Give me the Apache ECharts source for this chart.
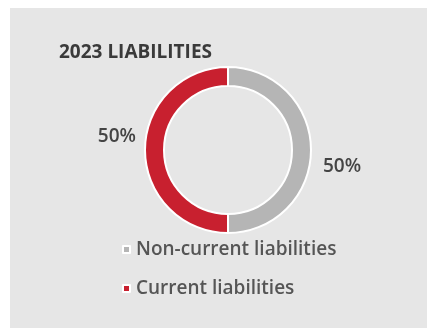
<!DOCTYPE html>
<html><head><meta charset="utf-8">
<script src="https://cdn.jsdelivr.net/npm/echarts@6/dist/echarts.min.js"></script>
<style>html,body{margin:0;padding:0;background:#fff}#c{width:427px;height:328px}</style>
</head><body><div id="c"></div>
<script>
var title = '2023 LIABILITIES';
var categories = ['Non-current liabilities', 'Current liabilities'];
var values = [50, 50];
var colors = ['#b5b5b5', '#c8202f'];

var chart = echarts.init(document.getElementById('c'), null, {renderer: 'canvas'});
var font = '"Open Sans", sans-serif';
chart.setOption({
  backgroundColor: '#ffffff',
  animation: false,
  graphic: [{type: 'rect', shape: {x: 10, y: 8, width: 417, height: 320}, style: {fill: '#e6e6e6'}, z: -10}],
  title: {text: title, left: 54, top: 38, textStyle: {fontFamily: font, fontWeight: 700, fontSize: 19, color: '#3a3a3a', letterSpacing: -1.2}},
  legend: {orient: 'vertical', left: 117, top: 235, itemGap: 20, itemWidth: 7, itemHeight: 7, icon: 'rect',
    data: categories,
    textStyle: {fontFamily: font, fontWeight: 600, fontSize: 19, color: '#555', padding: [0, 0, 0, 1]}},
  series: [{
    type: 'pie', center: [228, 150], radius: [64, 83], startAngle: 90, clockwise: true,
    itemStyle: {borderColor: '#ffffff', borderWidth: 2},
    label: {show: true, position: 'outside', formatter: '{d}%', fontFamily: font, fontWeight: 600, fontSize: 19, color: '#444'},
    labelLine: {show: false, length: 7, length2: 0},
    labelLayout: function (p) { return p.dataIndex === 0 ? {dy: 17} : {dx: 3, dy: -13}; },
    data: categories.map(function (n, i) { return {name: n, value: values[i], itemStyle: {color: colors[i]}}; })
  }]
});
</script></body></html>
